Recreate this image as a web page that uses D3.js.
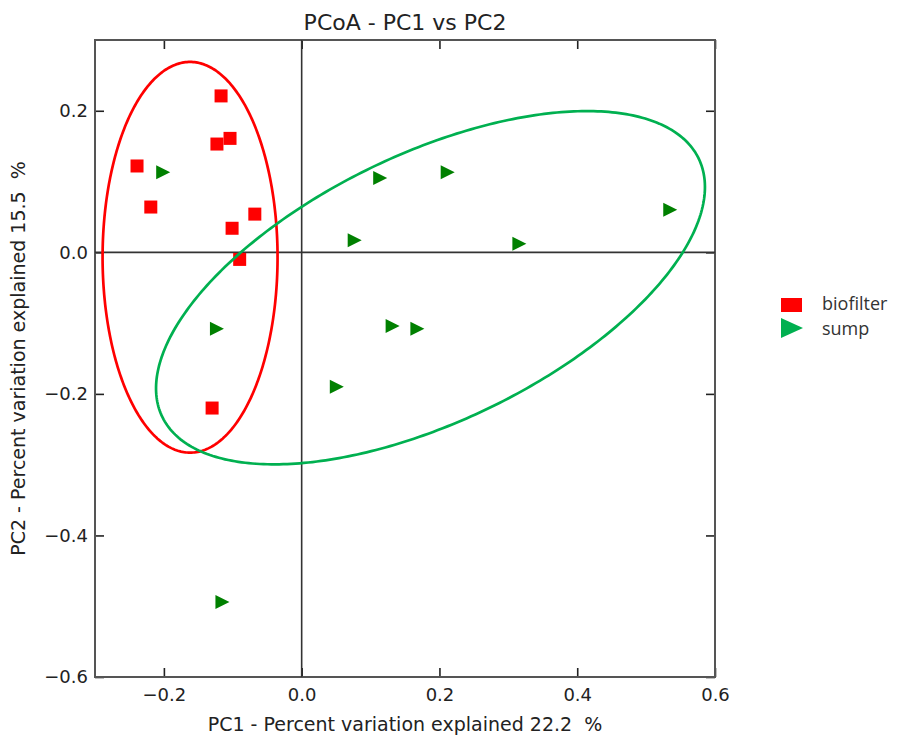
<!DOCTYPE html>
<html>
<head>
<meta charset="utf-8">
<script src="https://cdn.jsdelivr.net/npm/d3@7"></script>
<style>
  html, body { margin: 0; padding: 0; background: #fff; }
  svg { display: block; }
  text { white-space: pre; }
</style>
</head>
<body>
<svg id="chart" width="909" height="740"></svg>
<script>
// ---- data ----
const groups = ["biofilter", "sump"];

const biofilterPC1 = [-0.117, -0.239, -0.219, -0.123, -0.104, -0.101, -0.068, -0.090, -0.130];
const biofilterPC2 = [ 0.221,  0.122,  0.064,  0.153,  0.161,  0.034,  0.054, -0.010, -0.220];

const sumpPC1 = [-0.201, -0.123, -0.115, 0.077, 0.114, 0.212, 0.535, 0.316, 0.132, 0.168, 0.051];
const sumpPC2 = [ 0.113, -0.108, -0.494, 0.017, 0.105, 0.113, 0.060, 0.012, -0.104, -0.108, -0.190];

// confidence ellipses: centre, semi-axes (data units) and rotation (degrees)
const ellipseCX = [-0.162, 0.187];
const ellipseCY = [-0.007, -0.050];
const ellipseA  = [0.127, 0.430];
const ellipseB  = [0.276, 0.190];
const ellipseAngle = [0, 24.8];

const xTicks = [-0.2, 0.0, 0.2, 0.4, 0.6];
const yTicks = [0.2, 0.0, -0.2, -0.4, -0.6];

const title = "PCoA - PC1 vs PC2";
const xLabel = "PC1 - Percent variation explained 22.2  %";
const yLabel = "PC2 - Percent variation explained 15.5  %";

// ---- drawing ----
const svg = d3.select("#chart");
const L = 95, R = 715, T = 40, B = 677;
const x = d3.scaleLinear().domain([-0.3, 0.6]).range([L, R]);
const y = d3.scaleLinear().domain([-0.6, 0.3]).range([B, T]);
const fmt = d3.format(".1f");
const tickFont = "DejaVu Sans, sans-serif";

function styleAxis(g) {
  g.select(".domain").remove();
  g.selectAll(".tick line").attr("stroke", "#222").attr("stroke-width", 1.6);
  g.selectAll(".tick text").attr("fill", "#222").style("font-family", tickFont).style("font-size", "18px");
}

svg.append("g").attr("transform", `translate(0,${B})`)
  .call(d3.axisBottom(x).tickValues(xTicks).tickFormat(fmt).tickSizeInner(-9).tickSizeOuter(0).tickPadding(11))
  .call(styleAxis);
svg.append("g").attr("transform", `translate(${L},0)`)
  .call(d3.axisLeft(y).tickValues(yTicks).tickFormat(fmt).tickSizeInner(-9).tickSizeOuter(0).tickPadding(7))
  .call(styleAxis);
svg.append("g").attr("transform", `translate(0,${T})`)
  .call(d3.axisTop(x).tickValues(xTicks).tickFormat("").tickSizeInner(-9).tickSizeOuter(0))
  .call(styleAxis);
svg.append("g").attr("transform", `translate(${R},0)`)
  .call(d3.axisRight(y).tickValues(yTicks).tickFormat("").tickSizeInner(-9).tickSizeOuter(0))
  .call(styleAxis);

// frame
svg.append("rect").attr("x", L).attr("y", T).attr("width", R - L).attr("height", B - T)
  .attr("fill", "none").attr("stroke", "#555").attr("stroke-width", 2);

// zero lines
svg.append("line").attr("x1", x(0)).attr("x2", x(0)).attr("y1", T).attr("y2", B)
  .attr("stroke", "#333").attr("stroke-width", 1.6);
svg.append("line").attr("x1", L).attr("x2", R).attr("y1", y(0)).attr("y2", y(0))
  .attr("stroke", "#333").attr("stroke-width", 1.6);

// points
const biofilter = biofilterPC1.map((v, i) => ({ x: v, y: biofilterPC2[i] }));
const sump = sumpPC1.map((v, i) => ({ x: v, y: sumpPC2[i] }));
const sq = 13;
svg.append("g").selectAll("rect").data(biofilter).join("rect")
  .attr("x", d => x(d.x) - sq / 2).attr("y", d => y(d.y) - sq / 2)
  .attr("width", sq).attr("height", sq).attr("fill", "#ff0000");
const tw = 14, th = 14;
svg.append("g").selectAll("path").data(sump).join("path")
  .attr("d", d => {
    const cx = x(d.x), cy = y(d.y);
    return `M${cx - tw / 2},${cy - th / 2}L${cx + tw / 2},${cy}L${cx - tw / 2},${cy + th / 2}Z`;
  })
  .attr("fill", "#008000");

// ellipses
const ellColors = ["#ff0000", "#00b050"];
const line = d3.line().x(d => x(d[0])).y(d => y(d[1])).curve(d3.curveLinearClosed);
groups.forEach((g, k) => {
  const th0 = ellipseAngle[k] * Math.PI / 180;
  const pts = d3.range(0, 360, 1).map(t => {
    const a = t * Math.PI / 180;
    const ex = ellipseA[k] * Math.cos(a), ey = ellipseB[k] * Math.sin(a);
    return [ellipseCX[k] + ex * Math.cos(th0) - ey * Math.sin(th0),
            ellipseCY[k] + ex * Math.sin(th0) + ey * Math.cos(th0)];
  });
  svg.append("path").attr("d", line(pts)).attr("fill", "none")
    .attr("stroke", ellColors[k]).attr("stroke-width", 2.7);
});

// title and axis labels
svg.append("text").attr("x", (L + R) / 2).attr("y", 30).attr("text-anchor", "middle")
  .style("font-family", tickFont).style("font-size", "22px").attr("fill", "#222").text(title);
svg.append("text").attr("x", (L + R) / 2).attr("y", 731).attr("text-anchor", "middle")
  .style("font-family", tickFont).style("font-size", "19px").attr("fill", "#222").text(xLabel);
svg.append("text").attr("transform", `translate(25,${(T + B) / 2}) rotate(-90)`).attr("text-anchor", "middle")
  .style("font-family", tickFont).style("font-size", "19px").attr("fill", "#222").text(yLabel);

// legend
const lg = svg.append("g").style("font-family", "Open Sans, sans-serif").style("font-size", "18px");
lg.append("rect").attr("x", 781).attr("y", 298).attr("width", 21).attr("height", 14).attr("fill", "#ff0000");
lg.append("path").attr("d", "M781,318L803,328L781,338Z").attr("fill", "#00b050");
lg.append("text").attr("x", 822).attr("y", 310).attr("fill", "#333").text(groups[0]);
lg.append("text").attr("x", 822).attr("y", 335).attr("fill", "#333").text(groups[1]);
</script>
</body>
</html>
